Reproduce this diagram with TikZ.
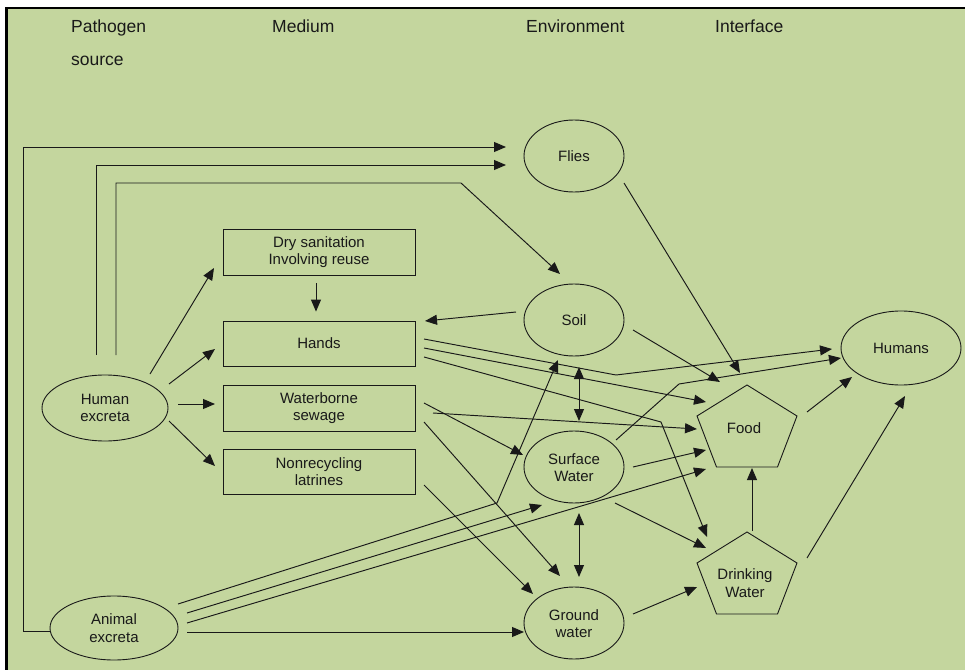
\documentclass[tikz,border=0pt]{standalone}
\usepackage{fontspec}
\setmainfont{Liberation Sans}
\usetikzlibrary{arrows.meta,shapes.geometric}
\definecolor{bg}{RGB}{196,214,158}
\definecolor{ink}{RGB}{25,25,25}
\newcommand\nfont{\fontsize{15bp}{17.5bp}\selectfont}
\newcommand\hfont{\fontsize{17.5bp}{21bp}\selectfont}
\tikzset{
  tip/.tip={Triangle[length=12bp,width=10bp]},
  conn/.style={draw=ink, line width=0.95bp, -tip},
  both/.style={draw=ink, line width=0.95bp, tip-tip},
  shp/.style={draw=ink, line width=0.9bp},
  oval/.style={shp, ellipse, inner sep=0pt, align=center, font=\nfont, text=ink},
  box/.style={shp, rectangle, inner sep=0pt, minimum width=192bp, align=center, font=\nfont, text=ink},
  txt/.style={inner sep=0pt, align=center, font=\nfont, text=ink},
  head/.style={inner sep=0pt, anchor=base west, font=\hfont, text=ink}
}
\begin{document}
\begin{tikzpicture}[x=1bp,y=-1bp]
\useasboundingbox (0,0) rectangle (965,670);
\fill[white] (0,0) rectangle (965,670);
\fill[bg] (8,9) rectangle (965,670);
\fill[black] (5,7) rectangle (965,9.5);
\fill[black] (5,7) rectangle (8,670);

% headers
\node[head] (h1) at (71,33) {Pathogen};
\node[head] (h2) at (71,66) {source};
\node[head] (h3) at (272,33) {Medium};
\node[head] (h4) at (526,33) {Environment};
\node[head] (h5) at (715,33) {Interface};

% sources
\node[oval, minimum width=126bp, minimum height=66bp] (hex) at (105,408) {Human\\excreta};
\node[oval, minimum width=128bp, minimum height=64bp] (aex) at (114,628) {Animal\\excreta};

% media
\node[box, minimum height=46bp] (dry) at (319,252) {Dry sanitation\\Involving reuse};
\node[box, minimum height=45bp] (hands) at (319,343.5) {Hands};
\node[box, minimum height=46bp] (sew) at (319,408) {Waterborne\\sewage};
\node[box, minimum height=45bp] (latr) at (319,471.5) {Nonrecycling\\latrines};

% environment
\node[oval, minimum width=100bp, minimum height=72bp] (flies) at (574,156) {Flies};
\node[oval, minimum width=100bp, minimum height=72bp] (soil) at (574,320) {Soil};
\node[oval, minimum width=100bp, minimum height=72bp] (surf) at (574,467) {\strut Surface\\Water};
\node[oval, minimum width=100bp, minimum height=72bp] (ground) at (574,623) {\strut Ground\\water};

% interface (pentagons)
\coordinate (food) at (747,426);
\draw[shp] ([shift={(0,-41)}]food) -- ([shift={(50,-10)}]food) -- ([shift={(30.5,41)}]food)
  -- ([shift={(-30.5,41)}]food) -- ([shift={(-50,-10)}]food) -- cycle;
\node[txt] (foodtxt) at (744,428) {Food};
\coordinate (dw) at (747,573);
\draw[shp] ([shift={(0,-41)}]dw) -- ([shift={(50,-10)}]dw) -- ([shift={(30.5,41)}]dw)
  -- ([shift={(-30.5,41)}]dw) -- ([shift={(-50,-10)}]dw) -- cycle;
\node[txt] (dwtxt) at (745,583) {Drinking\\Water};

% target
\node[oval, minimum width=120bp, minimum height=74bp] (humans) at (901,348) {Humans};

% connectors from sources
\draw[conn] ([shift={(0,3)}]aex.west) -- ++(-26,0) |- ([shift={(-68,-9)}]flies.center);
\draw[conn] ([shift={(-9,-53)}]hex.center) |- ([shift={(-68,9)}]flies.center);
\draw[conn] ([shift={(11,-53)}]hex.center) -- ++(0,-172) -- ++(345,0) -- ([shift={(-14,-46)}]soil.center);
\draw[conn] ([shift={(45,-34)}]hex.center) -- ([shift={(-105,16)}]dry.center);
\draw[conn] ([shift={(64,-24)}]hex.center) -- ([shift={(-104,5.5)}]hands.center);
\draw[conn] ([shift={(73,-4)}]hex.center) -- ([shift={(-104,-4)}]sew.center);
\draw[conn] ([shift={(64,13)}]hex.center) -- ([shift={(-104,-5.5)}]latr.center);

\draw[conn] ([shift={(64,-24)}]aex.center) -- ++(319,-101) -- ([shift={(-16,40)}]soil.center);
\draw[conn] ([shift={(73,-15)}]aex.center) -- ([shift={(-32,38)}]surf.center);
\draw[conn] ([shift={(73,-5)}]aex.center) -- ([shift={(-41,43)}]food);
\draw[conn] ([shift={(73,4)}]aex.center) -- ([shift={(-50,9)}]ground.center);

% media connectors
\draw[conn] ([shift={(-3,8)}]dry.south) -- ([shift={(-3,-9)}]hands.north);
\draw[conn] ([shift={(-58,-8)}]soil.center) -- ([shift={(106,-22.5)}]hands.center);
\draw[conn] ([shift={(105,-4.5)}]hands.center) -- ++(192,36) -- ([shift={(-69,1)}]humans.center);
\draw[conn] ([shift={(105,4.5)}]hands.center) -- ([shift={(-41,-24)}]food);
\draw[conn] ([shift={(105,13.5)}]hands.center) -- ++(237,65) -- ([shift={(-40,-36)}]dw);
\draw[conn] ([shift={(114,5)}]sew.center) -- ([shift={(-50,3)}]food);
\draw[conn] ([shift={(105,-5)}]sew.center) -- ([shift={(-51,-12)}]surf.center);
\draw[conn] ([shift={(105,14)}]sew.center) -- ([shift={(-14,-47)}]ground.center);
\draw[conn] ([shift={(105,13.5)}]latr.center) -- ([shift={(-41,-29)}]ground.center);

% environment connectors
\draw[conn] ([shift={(59,10)}]soil.center) -- ([shift={(-27,-44)}]food);
\draw[conn] ([shift={(50,27)}]flies.center) -- ([shift={(-7,-53)}]food);
\draw[conn] ([shift={(42,-27)}]surf.center) -- ++(63,-56) -- ([shift={(-60,10)}]humans.center);
\draw[both] ([shift={(5,47)}]soil.center) -- ([shift={(5,-46)}]surf.center);
\draw[conn] ([shift={(59,0)}]surf.center) -- ([shift={(-41,24)}]food);
\draw[conn] ([shift={(41,36)}]surf.center) -- ([shift={(-41,-25)}]dw);
\draw[both] ([shift={(5,46)}]surf.center) -- ([shift={(5,-46)}]ground.center);
\draw[conn] ([shift={(59,-9)}]ground.center) -- ([shift={(-50,14)}]dw);

% interface connectors
\draw[conn] ([shift={(5,-42)}]dw) -- ([shift={(5,42)}]food);
\draw[conn] ([shift={(60,-15)}]dw) -- ([shift={(4,48)}]humans.center);
\draw[conn] ([shift={(60,-14)}]food) -- ([shift={(-49,29)}]humans.center);
\end{tikzpicture}
\end{document}
